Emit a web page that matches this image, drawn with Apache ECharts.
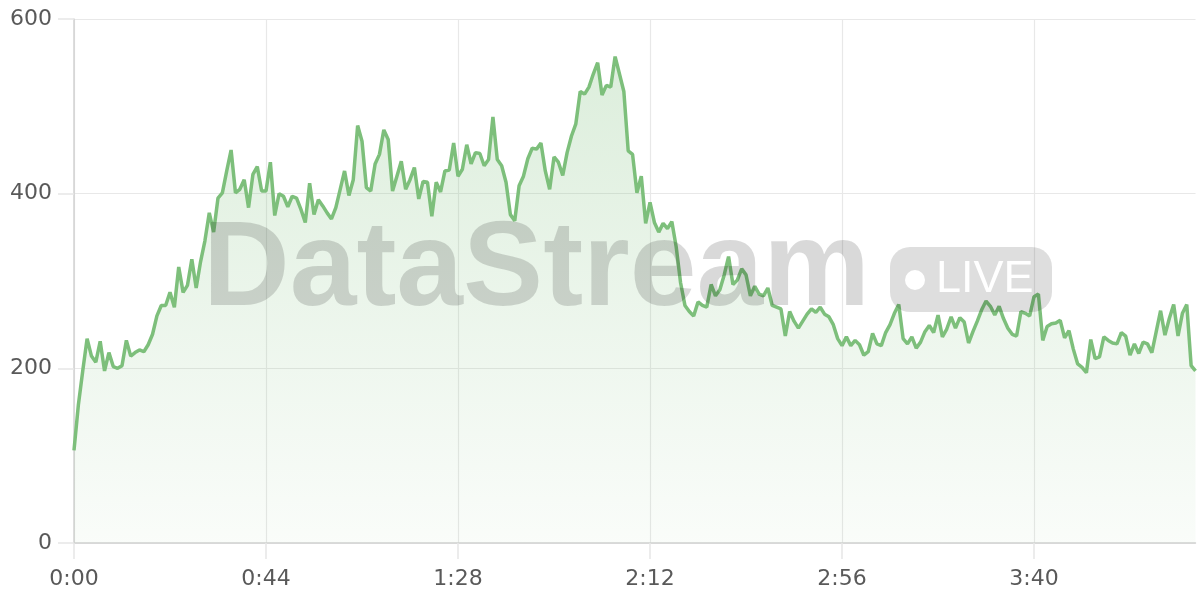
<!DOCTYPE html>
<html>
<head>
<meta charset="utf-8">
<script src="https://cdn.jsdelivr.net/npm/echarts@6/dist/echarts.min.js"></script>
<style>
html,body{margin:0;padding:0;background:#fff;}
#chart{width:1200px;height:600px;}
</style>
</head>
<body>
<div id="chart"></div>
<script>
// Values sampled once per second (index = seconds since start)
const values = [
106,158,197,234,214,207,231,197,218,202,200,203,232,214,218,221,219,227,239,260,
272,272,287,270,316,287,295,325,292,322,346,378,356,395,401,426,450,401,405,416,
384,422,431,403,403,436,375,400,397,385,397,395,382,367,412,376,393,386,378,371,
384,405,426,398,416,478,460,407,403,434,445,473,462,403,420,437,405,416,430,394,
414,413,374,413,402,426,427,458,420,428,456,434,447,446,432,439,488,439,432,413,
376,369,409,420,440,452,451,458,426,405,442,436,421,447,466,480,517,514,522,537,
550,513,524,522,557,537,517,449,445,401,420,366,390,367,356,366,360,368,339,298,
272,265,260,276,272,270,296,283,290,307,328,296,301,314,307,283,294,285,283,292,
272,270,268,237,265,254,246,254,262,268,264,270,262,259,250,234,226,236,226,232,
227,215,219,240,228,226,241,250,263,273,234,228,236,223,230,242,249,241,261,236,
245,259,246,258,253,229,242,254,267,277,271,261,271,257,246,239,237,265,263,260,
282,285,232,248,251,252,255,235,243,222,205,201,195,233,211,213,236,232,229,228,
241,237,215,228,217,230,228,218,242,266,238,257,273,237,263,273,203,197
];
const tickStepSeconds = 44;
const tickLabels = ['0:00','0:44','1:28','2:12','2:56','3:40'];
const yTicks = [0, 200, 400, 600];
const watermarkText = 'DataStream';
const badgeText = 'LIVE';

function fmt(sec){
  const m = Math.floor(sec / 60), s = sec % 60;
  return m + ':' + (s < 10 ? '0' : '') + s;
}
const categories = values.map((_, i) => fmt(i));

const green = '#7dbf7b';
const chart = echarts.init(document.getElementById('chart'), null, {renderer:'canvas'});
chart.setOption({
  animation:false,
  backgroundColor:'#ffffff',
  grid:{left:74, right:4.5, top:19, bottom:57, containLabel:false},
  xAxis:{
    type:'category',
    data:categories,
    boundaryGap:false,
    axisLine:{show:true, lineStyle:{color:'#d2d2d2', width:1.5}},
    axisTick:{show:true, interval:tickStepSeconds-1, length:16, lineStyle:{color:'#e6e6e6', width:1.5}},
    splitLine:{show:true, interval:tickStepSeconds-1, lineStyle:{color:'#e8e8e8', width:1.2}},
    axisLabel:{
      interval:tickStepSeconds-1,
      margin:25,
      color:'#595959',
      fontSize:22,
      fontFamily:'DejaVu Sans',
      formatter:(v, idx) => tickLabels[idx / tickStepSeconds] || v
    }
  },
  yAxis:{
    type:'value',
    min:yTicks[0], max:yTicks[yTicks.length-1], interval:yTicks[1]-yTicks[0],
    axisLine:{show:true, lineStyle:{color:'#d2d2d2', width:1.5}},
    axisTick:{show:true, length:16, lineStyle:{color:'#e6e6e6', width:1.5}},
    splitLine:{show:true, lineStyle:{color:'#e8e8e8', width:1.2}},
    axisLabel:{margin:22, color:'#595959', fontSize:22, fontFamily:'DejaVu Sans'}
  },
  series:[{
    type:'line',
    data:values,
    showSymbol:false,
    symbol:'none',
    lineStyle:{color:green, width:3.5},
    itemStyle:{color:green},
    areaStyle:{
      color:new echarts.graphic.LinearGradient(0,0,0,1,[
        {offset:0, color:'rgba(125,191,123,0.38)'},
        {offset:1, color:'rgba(125,191,123,0.06)'}
      ])
    }
  }],
  graphic:[
    {type:'text', z:100, style:{
      text:watermarkText, x:203, y:272,
      font:'bold 120px "Liberation Sans", Arial, sans-serif',
      fill:'rgba(0,0,0,0.15)', textAlign:'left', textVerticalAlign:'middle'
    }},
    {type:'rect', z:100, shape:{x:890, y:247, width:162, height:65, r:20},
      style:{fill:'rgba(0,0,0,0.13)'}},
    {type:'circle', z:101, shape:{cx:915, cy:280, r:10}, style:{fill:'#ffffff'}},
    {type:'text', z:101, style:{
      text:badgeText, x:936, y:280,
      font:'45px "Liberation Sans", Arial, sans-serif',
      fill:'#ffffff', textAlign:'left', textVerticalAlign:'middle'
    }}
  ]
});
</script>
</body>
</html>
